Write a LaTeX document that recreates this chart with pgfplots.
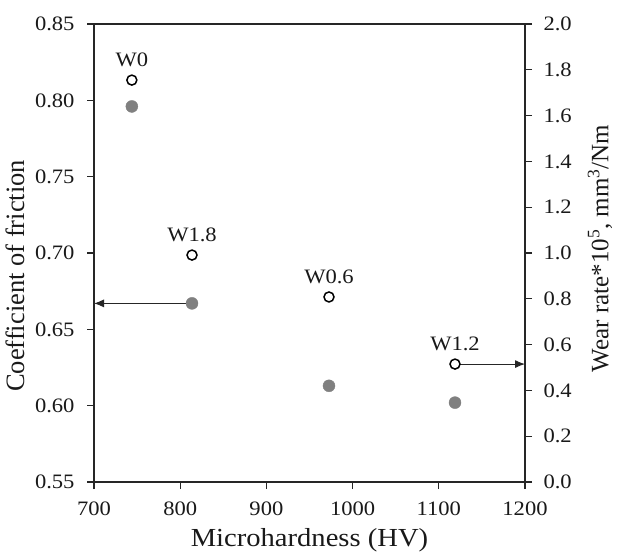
\documentclass[border=0pt]{standalone}
\usepackage{fontspec}
\setmainfont{Liberation Serif}[FakeStretch=1.1]
\newfontfamily\rotfont{Liberation Serif}
\usepackage{pgfplots}
\pgfplotsset{compat=1.18}
\usetikzlibrary{arrows.meta}
\begin{document}
\begin{tikzpicture}
\path[use as bounding box] (-94pt,-74pt) rectangle (523pt,482pt);
\pgfplotsset{
  every axis/.append style={
    scale only axis, width=431pt, height=458pt,
    xmin=700, xmax=1200,
    clip=false,
    axis line style={line width=1.3pt, black!85},
    tick style={line width=1.3pt, black!85},
    major tick length=7pt,
    tick align=outside,
    /pgf/number format/assume math mode=true,
    tick label style={font=\fontsize{20.5}{24}\selectfont, black!90},
  }
}
\begin{axis}[
  ymin=0.55, ymax=0.85,
  xtick={700,800,900,1000,1100,1200},
  ytick={0.55,0.60,0.65,0.70,0.75,0.80,0.85},
  xtick pos=bottom, ytick pos=left,
  yticklabel style={xshift=-9pt, /pgf/number format/fixed, /pgf/number format/fixed zerofill, /pgf/number format/precision=2},
  xticklabel style={yshift=-9pt, /pgf/number format/1000 sep={}},
  xlabel={Microhardness (HV)},
  xlabel style={at={(axis description cs:0.5,0)}, anchor=center, yshift=-58pt, font=\fontsize{26}{30}\selectfont, black!90},
  ylabel={Coefficient of friction},
  ylabel style={at={(axis description cs:0,0.45)}, anchor=center, rotate=0, yshift=79pt, font=\rotfont\fontsize{26.5}{30}\selectfont, black!90},
]
\addplot[line width=0.9pt, black!85, -{Latex[length=10pt,width=8pt]}, shorten <=6pt] coordinates {(813.7,0.667) (700,0.667)};
\addplot[only marks, mark=*, mark size=6pt, mark options={fill=gray, draw=gray}] coordinates {
(743.9,0.796) (813.7,0.667) (972.6,0.613) (1118.8,0.602)};
\end{axis}
\begin{axis}[
  ymin=0, ymax=2,
  hide x axis,
  axis y line*=right,
  ytick={0,0.2,0.4,0.6,0.8,1.0,1.2,1.4,1.6,1.8,2.0},
  yticklabel style={xshift=8pt, /pgf/number format/fixed, /pgf/number format/fixed zerofill, /pgf/number format/precision=1},
  ylabel={Wear rate*10\textsuperscript{5}, mm\textsuperscript{3}/Nm},
  ylabel style={at={(axis description cs:1,0.51)}, anchor=center, yshift=-75pt, font=\rotfont\fontsize{25}{30}\selectfont, black!90},
]
\addplot[line width=0.9pt, black!85, -{Latex[length=10pt,width=8pt]}, shorten <=5pt] coordinates {(1118.8,0.515) (1200,0.515)};
\addplot[only marks, mark=*, mark size=5pt, mark options={fill=white, draw=black, line width=1.5pt},
  nodes near coords, point meta=explicit symbolic,
  nodes near coords style={font=\fontsize{20.5}{24}\selectfont, black!90, anchor=center, yshift=20pt}] coordinates {
(743.9,1.755) [W0] (813.7,0.991) [W1.8] (972.6,0.808) [W0.6] (1118.8,0.515) [W1.2]};
\end{axis}
\end{tikzpicture}
\end{document}
